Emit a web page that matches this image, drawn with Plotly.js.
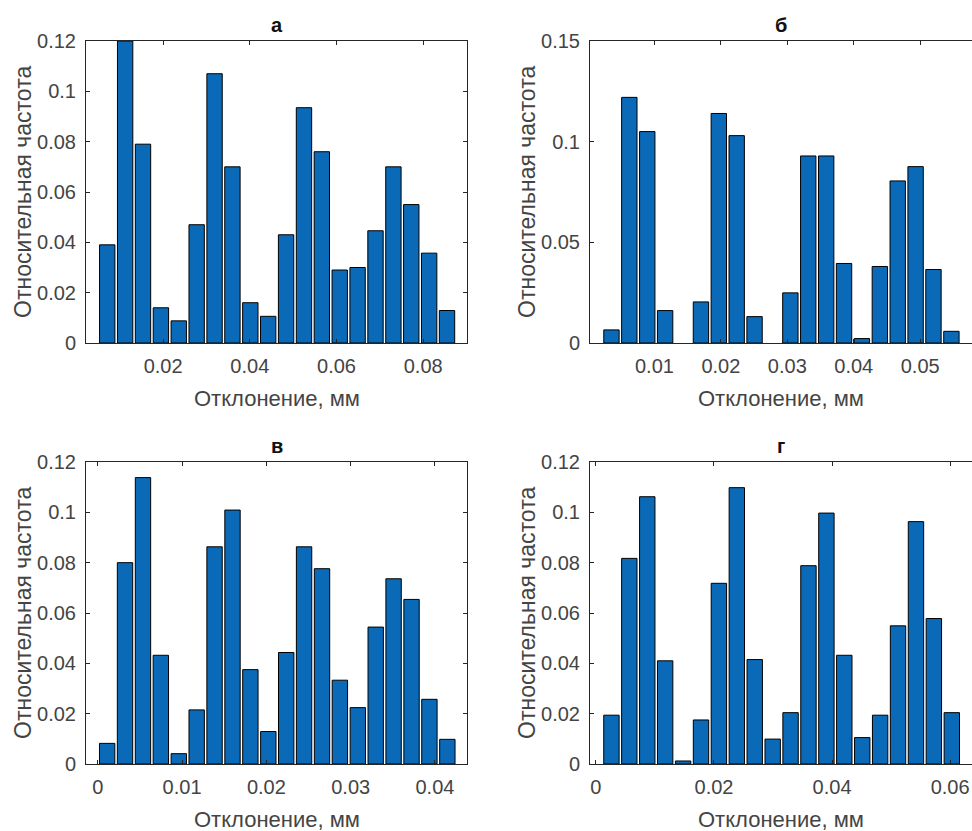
<!DOCTYPE html>
<html>
<head>
<meta charset="utf-8">
<script src="https://cdn.plot.ly/plotly-3.0.1.min.js"></script>
<style>html,body{margin:0;padding:0;background:#fff;}#chart{width:972px;height:831px;}</style>
</head>
<body>
<div id="chart"></div>
<script>
// Panel titles and axis labels
const panelTitles = ["а", "б", "в", "г"];
const xLabel = "Отклонение, мм";
const yLabel = "Относительная частота";

// Panel а
const xA = [0.00710,0.01123,0.01535,0.01948,0.02360,0.02773,0.03186,0.03598,0.04011,0.04423,
            0.04836,0.05249,0.05661,0.06074,0.06486,0.06899,0.07312,0.07724,0.08137,0.08549];
const yA = [0.039,0.120,0.079,0.014,0.0088,0.047,0.107,0.070,0.016,0.0106,
            0.043,0.0935,0.076,0.029,0.030,0.0446,0.070,0.055,0.0357,0.0129];

// Panel б
const xB = [0.00353,0.00622,0.00892,0.01161,0.01430,0.01700,0.01969,0.02238,0.02507,0.02777,
            0.03046,0.03315,0.03585,0.03854,0.04123,0.04393,0.04662,0.04931,0.05200,0.05470];
const yB = [0.0065,0.122,0.105,0.0161,0,0.0204,0.114,0.103,0.0131,0,
            0.0249,0.0929,0.0929,0.0395,0.0022,0.038,0.0805,0.0876,0.0365,0.0058];

// Panel в
const xV = [0.00111,0.00323,0.00536,0.00748,0.00961,0.01173,0.01385,0.01598,0.01810,0.02023,
            0.02235,0.02447,0.02660,0.02872,0.03085,0.03297,0.03509,0.03722,0.03934,0.04147];
const yV = [0.0082,0.080,0.1138,0.0432,0.0041,0.0215,0.0863,0.1009,0.0375,0.0129,
            0.0443,0.0863,0.0776,0.0333,0.0224,0.0544,0.0736,0.0654,0.0257,0.0098];

// Panel г
const xG = [0.00263,0.00566,0.00870,0.01173,0.01477,0.01780,0.02083,0.02387,0.02690,0.02994,
            0.03297,0.03600,0.03904,0.04207,0.04511,0.04814,0.05117,0.05421,0.05724,0.06028];
const yG = [0.0194,0.0817,0.1062,0.041,0.0012,0.0175,0.0718,0.1098,0.0415,0.0099,
            0.0204,0.0788,0.0997,0.0432,0.0105,0.0194,0.0549,0.0963,0.0578,0.0204];

const W = 972, H = 831;
const barColor = '#0a6ab8';
const axisColor = '#262626';
const textColor = '#444444';
const font = 'Liberation Sans, Arial, sans-serif';

function bar(x, y, n) {
  return {type:'bar', x:x, y:y, xaxis:'x'+(n===1?'':n), yaxis:'y'+(n===1?'':n),
    marker:{color:barColor, line:{color:'#000', width:y.map(v => v > 0 ? 1 : 0)}},
    hoverinfo:'x+y', showlegend:false};
}
const data = [bar(xA,yA,1), bar(xB,yB,2), bar(xV,yV,3), bar(xG,yG,4)];

// pixel boxes [left, right, top, bottom]
const boxes = [[86,467,41,343],[590,972,41,343],[86,467,462,764],[590,972,462,764]];
const xRanges = [[0.0022,0.0901],[0.0003,0.0578],[-0.0014,0.0438],[-0.0010,0.0637]];
const yRanges = [[0,0.12],[0,0.15],[0,0.12],[0,0.12]];
const xD = [0.02,0.01,0.01,0.02];
const yD = [0.02,0.05,0.02,0.02];

const layout = {width:W, height:H, margin:{l:0,r:0,t:0,b:0}, paper_bgcolor:'#fff', plot_bgcolor:'#fff',
  bargap:0.14, font:{family:font, size:20, color:textColor}, annotations:[]};

boxes.forEach((b,i)=>{
  const k = i===0 ? '' : String(i+1);
  const rightCut = b[1] >= W;
  layout['xaxis'+k] = {domain:[b[0]/W, b[1]/W], anchor:'y'+k, range:xRanges[i], dtick:xD[i], tick0:0,
    ticks:'inside', ticklen:4, tickcolor:axisColor, showline:true, linecolor:axisColor, linewidth:1,
    mirror:'ticks', showgrid:false, zeroline:false, ticklabelstandoff:5,
    tickfont:{family:font,size:20,color:textColor}};
  layout['yaxis'+k] = {domain:[1-b[3]/H, 1-b[2]/H], anchor:'x'+k, range:yRanges[i], dtick:yD[i], tick0:0,
    ticks:'inside', ticklen:4, tickcolor:axisColor, showline:true, linecolor:axisColor, linewidth:1,
    mirror: rightCut ? false : 'ticks', showgrid:false, zeroline:false, ticklabelstandoff:5,
    tickfont:{family:font,size:20,color:textColor}};
  const cx = (b[0]+b[1])/2;
  const cxPanel = rightCut ? (b[0]+467-86+b[0])/2 : cx;
  layout.annotations.push({xref:'paper', yref:'paper', x:cxPanel/W, y:1-(b[2]-16)/H, text:'<b>'+panelTitles[i]+'</b>',
    showarrow:false, xanchor:'center', yanchor:'middle', font:{family:font,size:20,color:'#111'}});
  layout.annotations.push({xref:'paper', yref:'paper', x:cxPanel/W, y:1-(b[3]+55)/H, text:xLabel,
    showarrow:false, xanchor:'center', yanchor:'middle', font:{family:font,size:22,color:textColor}});
  layout.annotations.push({xref:'paper', yref:'paper', x:(b[0]-63)/W, y:1-((b[2]+b[3])/2)/H, text:yLabel,
    textangle:-90, showarrow:false, xanchor:'center', yanchor:'middle', font:{family:font,size:23,color:textColor}});
});

Plotly.newPlot('chart', data, layout, {displayModeBar:false, staticPlot:true});
</script>
</body>
</html>
